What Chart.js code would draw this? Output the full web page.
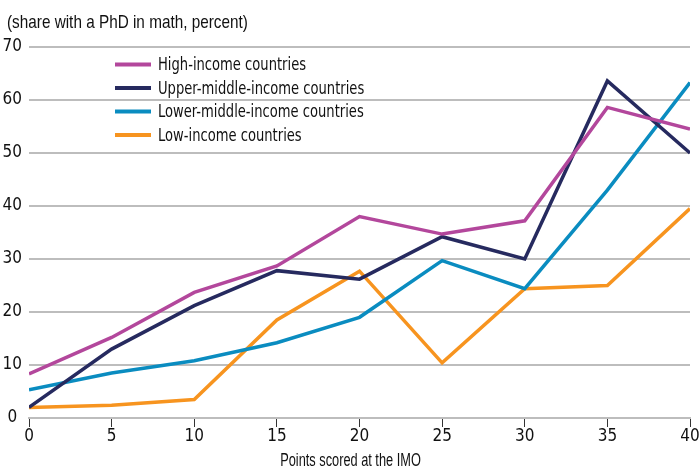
<!DOCTYPE html>
<html>
<head>
<meta charset="utf-8">
<script src="https://cdn.jsdelivr.net/npm/chart.js@4.4.0/dist/chart.umd.min.js"></script>
<style>
  html, body { margin: 0; padding: 0; background: #fff; }
  #wrap { width: 700px; height: 470px; }
</style>
</head>
<body>
<div id="wrap"><canvas id="imoChart" width="700" height="470"></canvas></div>
<script>
const points = [0, 5, 10, 15, 20, 25, 30, 35, 40];

const highIncome = [8.3, 15.2, 23.7, 28.7, 38.0, 34.7, 37.2, 58.6, 54.5];
const upperMiddle = [2.0, 13.0, 21.2, 27.8, 26.2, 34.2, 30.0, 63.6, 50.0];
const lowerMiddle = [5.3, 8.5, 10.8, 14.2, 19.0, 29.7, 24.4, 43.0, 63.3];
const lowIncome = [2.0, 2.4, 3.5, 18.5, 27.7, 10.4, 24.4, 25.0, 39.5];

const yTicks = [0, 10, 20, 30, 40, 50, 60, 70];

const TICK_FONT = "'DejaVu Sans Condensed', sans-serif";
const TEXT_FONT = "'Liberation Sans', Arial, sans-serif";

function toXY(values)
{
    return points.map((p, i) => ({ x: p, y: values[i] }));
}

function makeSet(label, values, color)
{
    return {
        label: label,
        data: toXY(values),
        borderColor: color,
        backgroundColor: color,
        borderWidth: 3.5,
        pointRadius: 0,
        tension: 0,
        borderJoinStyle: "miter"
    };
}

// draw text squeezed horizontally, condensed look
function narrowText(ctx, text, x, y, squeeze, align)
{
    ctx.save();
    ctx.translate(x, y);
    ctx.scale(squeeze, 1);
    ctx.textAlign = align || "left";
    ctx.fillText(text, 0, 0);
    ctx.restore();
}

/* legend drawn inside the plot, top-left */
const insideLegend = {
    id: "insideLegend",
    afterDatasetsDraw(chart)
    {
        const ctx = chart.ctx;
        const rows = [64.5, 88, 111.5, 135];
        ctx.save();
        ctx.font = "18px " + TICK_FONT;
        ctx.textBaseline = "middle";
        chart.data.datasets.forEach((ds, i) => {
            ctx.strokeStyle = ds.borderColor;
            ctx.lineWidth = 4;
            ctx.beginPath();
            ctx.moveTo(115, rows[i]);
            ctx.lineTo(151, rows[i]);
            ctx.stroke();
            ctx.fillStyle = "#111";
            narrowText(ctx, ds.label, 158, rows[i] + 1, 0.81);
        });
        ctx.restore();
    }
};

const extraText = {
    id: "extraText",
    afterDraw(chart)
    {
        const ctx = chart.ctx;
        ctx.save();
        ctx.fillStyle = "#111";
        ctx.textBaseline = "alphabetic";
        ctx.font = "19px " + TEXT_FONT;
        narrowText(ctx, "(share with a PhD in math, percent)", 7, 28, 0.806);
        ctx.font = "18px " + TEXT_FONT;
        narrowText(ctx, "Points scored at the IMO", 350.5, 466, 0.71, "center");
        ctx.restore();
    }
};

const imoChart = new Chart(
    document.getElementById("imoChart"),
    {
        type: "line",
        data: {
            datasets: [
                makeSet("High-income countries", highIncome, "#b3479c"),
                makeSet("Upper-middle-income countries", upperMiddle, "#262a5f"),
                makeSet("Lower-middle-income countries", lowerMiddle, "#0a8cc0"),
                makeSet("Low-income countries", lowIncome, "#f7941f")
            ]
        },
        options: {
            responsive: false,
            animation: false,
            layout: { padding: { top: 47, right: 10, left: 0, bottom: 0 } },
            plugins: {
                legend: { display: false },
                tooltip: { enabled: false }
            },
            scales: {
                x: {
                    type: "linear",
                    min: 0,
                    max: 40,
                    ticks: {
                        stepSize: 5,
                        color: "#111",
                        padding: -1,
                        font: { family: TICK_FONT, size: 17 }
                    },
                    grid: {
                        drawOnChartArea: false,
                        drawTicks: true,
                        tickLength: 9,
                        color: "#333",
                        lineWidth: 1
                    },
                    border: { display: true, color: "#bdbdbd", width: 2 },
                    afterFit(scale) { scale.height = 52; }
                },
                y: {
                    min: 0,
                    max: 70,
                    afterBuildTicks(scale) {
                        scale.ticks = yTicks.map(v => ({ value: v }));
                    },
                    ticks: {
                        color: "#111",
                        padding: 7,
                        crossAlign: "center",
                        font: { family: TICK_FONT, size: 17 }
                    },
                    grid: {
                        color: "#bdbdbd",
                        lineWidth: 2,
                        drawTicks: false
                    },
                    border: { display: false },
                    afterFit(scale) { scale.width = 29; }
                }
            }
        },
        plugins: [insideLegend, extraText]
    }
);
</script>
</body>
</html>
